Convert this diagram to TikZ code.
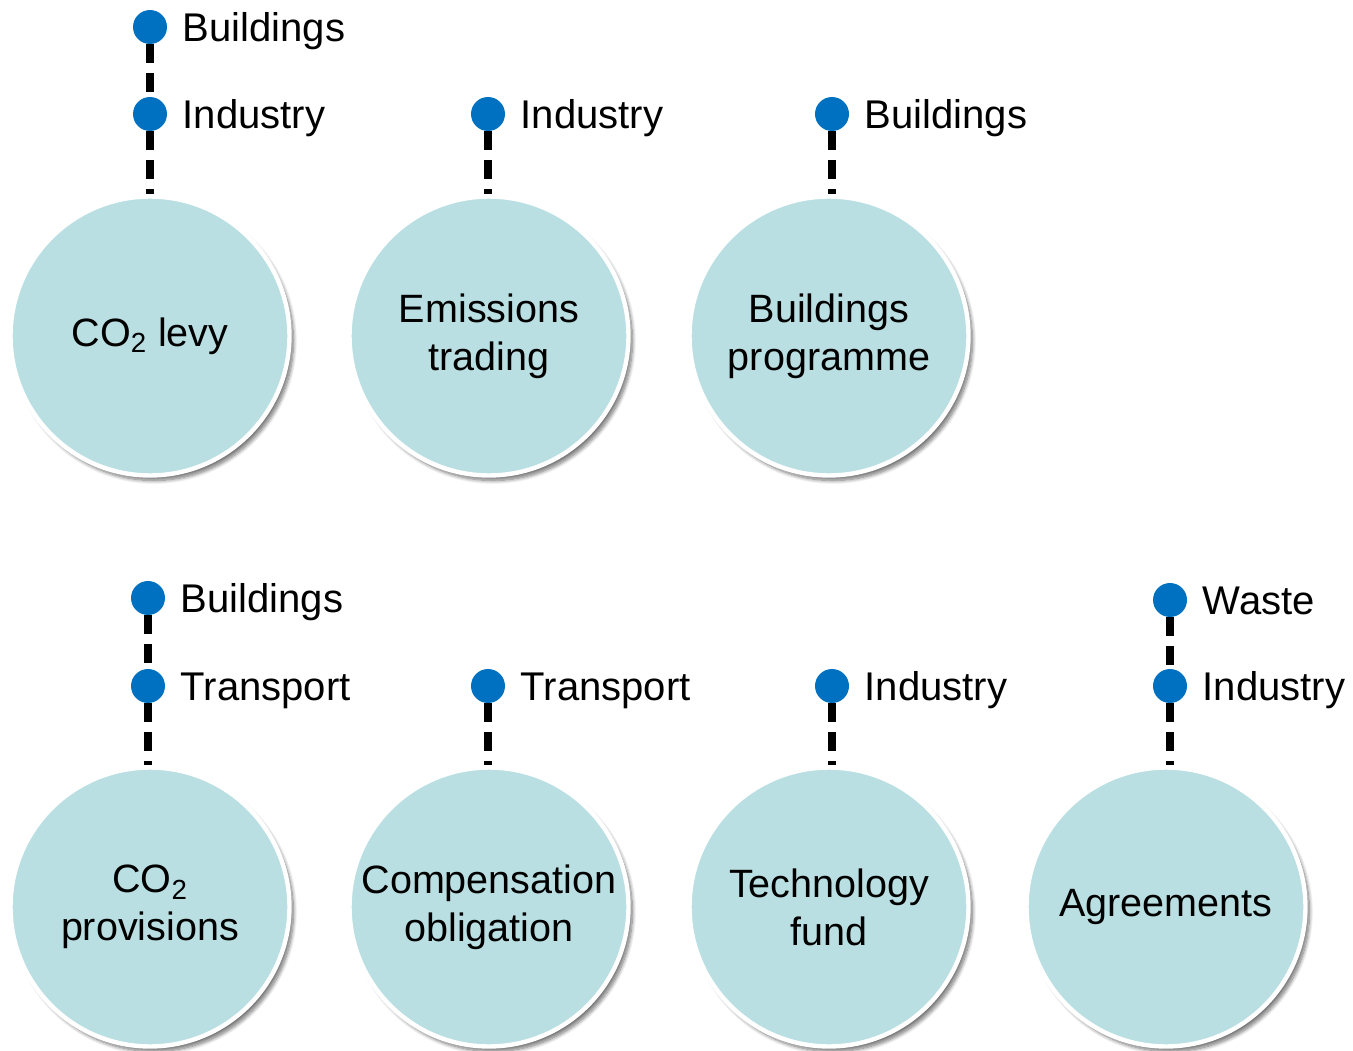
\documentclass[tikz,border=0pt]{standalone}
\usepackage{fontspec}
\setmainfont{Liberation Sans}
\usetikzlibrary{positioning,shadows.blur}
\definecolor{instrfill}{HTML}{B9DFE2}
\definecolor{sectorblue}{HTML}{0070C0}
\begin{document}
\begin{tikzpicture}[x=0.02cm,y=-0.02cm,
    instrument/.style={circle,minimum size=5.58cm,inner sep=0pt,fill=instrfill,
        draw=white,line width=2.5pt,align=center,
        font=\fontsize{22.5}{27.3}\selectfont,
        blur shadow={shadow xshift=0.08cm,shadow yshift=-0.1cm,shadow opacity=55,shadow blur steps=10}},
    sector/.style={circle,fill=sectorblue,minimum size=0.68cm,inner sep=0pt},
    sectorlabel/.style={right=0.3cm of #1,inner sep=0pt,text height=16.2pt,text depth=0pt,
        font=\fontsize{22.8}{26}\selectfont},
    link/.style={line width=4.3pt,dash pattern=on 0.38cm off 0.2cm}]
    \useasboundingbox (0,0) rectangle (1353,1051);

    % Top row
    \node[instrument] (levy) at (150,336) {CO\textsubscript{2} levy};
    \node[instrument] (ets) at (489,336) {Emissions\\trading};
    \node[instrument] (bprog) at (829,336) {Buildings\\programme};

    \node[sector] (levyB) at (150,27) {};
    \node[sectorlabel=levyB] (levyBt) {Buildings};
    \node[sector] (levyI) at (150,114) {};
    \node[sectorlabel=levyI] (levyIt) {Industry};
    \draw[link] (levyB.south) -- (levyI.north);
    \draw[link] (levyI.south) -- (levy.north);

    \node[sector] (etsI) at (488,114) {};
    \node[sectorlabel=etsI] (etsIt) {Industry};
    \draw[link] (etsI.south) -- (etsI |- ets.north);

    \node[sector] (bprogB) at (832,114) {};
    \node[sectorlabel=bprogB] (bprogBt) {Buildings};
    \draw[link] (bprogB.south) -- (bprogB |- bprog.north);

    % Bottom row
    \node[instrument] (prov) at (150,907) {CO\textsubscript{2}\\provisions};
    \node[instrument] (comp) at (489,907) {Compensation\\obligation};
    \node[instrument] (tfund) at (829,907) {Technology\\fund};
    \node[instrument] (agree) at (1166,907) {Agreements};

    \node[sector] (provB) at (148,598) {};
    \node[sectorlabel=provB] (provBt) {Buildings};
    \node[sector] (provT) at (148,686) {};
    \node[sectorlabel=provT] (provTt) {Transport};
    \draw[link] (provB.south) -- (provT.north);
    \draw[link] (provT.south) -- (provT |- prov.north);

    \node[sector] (compT) at (488,686) {};
    \node[sectorlabel=compT] (compTt) {Transport};
    \draw[link] (compT.south) -- (compT |- comp.north);

    \node[sector] (tfundI) at (832,686) {};
    \node[sectorlabel=tfundI] (tfundIt) {Industry};
    \draw[link] (tfundI.south) -- (tfundI |- tfund.north);

    \node[sector] (agreeW) at (1170,600) {};
    \node[sectorlabel=agreeW] (agreeWt) {Waste};
    \node[sector] (agreeI) at (1170,686) {};
    \node[sectorlabel=agreeI] (agreeIt) {Industry};
    \draw[link] (agreeW.south) -- (agreeI.north);
    \draw[link] (agreeI.south) -- (agreeI |- agree.north);
\end{tikzpicture}
\end{document}
